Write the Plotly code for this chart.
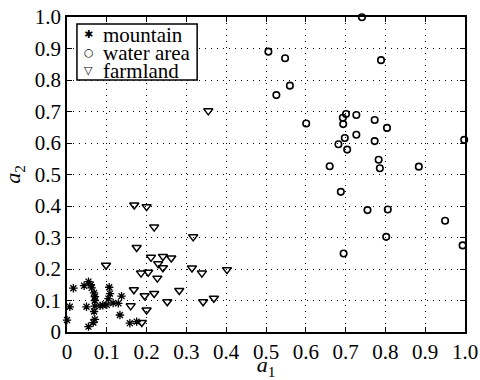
import plotly.graph_objects as go

mountain_x = [0.000, 0.007, 0.016, 0.043, 0.054, 0.060, 0.062, 0.068, 0.070, 0.070,
              0.106, 0.108, 0.104, 0.137, 0.049, 0.070, 0.083, 0.100, 0.116, 0.129,
              0.133, 0.068, 0.070, 0.066, 0.054, 0.158, 0.175, 0.090]
mountain_y = [0.038, 0.080, 0.139, 0.147, 0.160, 0.150, 0.140, 0.124, 0.112, 0.100,
              0.142, 0.122, 0.106, 0.114, 0.080, 0.082, 0.083, 0.086, 0.092, 0.091,
              0.054, 0.065, 0.040, 0.030, 0.017, 0.028, 0.033, 0.085]

water_x = [0.601, 0.693, 0.701, 0.694, 0.727, 0.773, 0.804, 0.727, 0.698, 0.682,
           0.704, 0.773, 0.998, 0.783, 0.786, 0.660, 0.884, 0.688, 0.755, 0.806,
           0.950, 0.802, 0.994, 0.695, 0.741, 0.506, 0.548, 0.789, 0.560, 0.526]
water_y = [0.662, 0.680, 0.692, 0.660, 0.689, 0.673, 0.648, 0.626, 0.616, 0.596,
           0.579, 0.606, 0.610, 0.547, 0.520, 0.526, 0.525, 0.445, 0.387, 0.389,
           0.353, 0.302, 0.275, 0.249, 0.999, 0.890, 0.869, 0.863, 0.782, 0.752]

farm_x = [0.355, 0.169, 0.200, 0.219, 0.317, 0.175, 0.211, 0.241, 0.262, 0.229,
          0.241, 0.098, 0.314, 0.339, 0.402, 0.186, 0.204, 0.227, 0.168, 0.195,
          0.219, 0.282, 0.160, 0.200, 0.252, 0.342, 0.369, 0.188]
farm_y = [0.702, 0.403, 0.398, 0.333, 0.302, 0.268, 0.237, 0.240, 0.235, 0.217,
          0.204, 0.212, 0.203, 0.187, 0.198, 0.187, 0.190, 0.171, 0.134, 0.115,
          0.122, 0.132, 0.083, 0.070, 0.096, 0.096, 0.107, 0.030]

series_names = ["mountain", "water area", "farmland"]
legend_glyphs = ["\u2731", "\u25CB", "\u25BD"]

tick_vals = [0, 0.1, 0.2, 0.3, 0.4, 0.5, 0.6, 0.7, 0.8, 0.9, 1.0]
tick_text = ["0", "0.1", "0.2", "0.3", "0.4", "0.5", "0.6", "0.7", "0.8", "0.9", "1.0"]

FONT = "Liberation Serif"

fig = go.Figure()
fig.add_trace(go.Scatter(
    x=mountain_x, y=mountain_y, mode="markers", name=series_names[0],
    marker=dict(symbol="asterisk-open", size=7, color="black",
                line=dict(color="black", width=1.3)),
    cliponaxis=False))
fig.add_trace(go.Scatter(
    x=water_x, y=water_y, mode="markers", name=series_names[1],
    marker=dict(symbol="circle-open", size=6.5, color="black",
                line=dict(color="black", width=1.6)),
    cliponaxis=False))
fig.add_trace(go.Scatter(
    x=farm_x, y=farm_y, mode="markers", name=series_names[2],
    marker=dict(symbol="triangle-down-open", size=8, color="black",
                line=dict(color="black", width=1.5)),
    cliponaxis=False))

axis_common = dict(
    range=[0, 1], tickvals=tick_vals, ticktext=tick_text,
    showgrid=True, gridcolor="black", gridwidth=1, griddash="1px,5px",
    zeroline=False, showline=True, linecolor="black", linewidth=1.5,
    mirror="ticks", ticks="inside", ticklen=5, tickcolor="black", tickwidth=1,
    tickfont=dict(family=FONT, size=21, color="black"),
    automargin=False,
)

fig.update_layout(
    width=480, height=380,
    margin=dict(l=67, r=15, t=17, b=48),
    paper_bgcolor="white", plot_bgcolor="white",
    font=dict(family=FONT, color="black"),
    xaxis=dict(**axis_common,
               title=dict(text="<i>a</i><sub>1</sub>", font=dict(family=FONT, size=22),
                          standoff=1)),
    yaxis=dict(**axis_common,
               title=dict(text="<i>a</i><sub>2</sub>", font=dict(family=FONT, size=22),
                          standoff=10)),
    showlegend=False,
)

fig.add_shape(type="rect", xref="paper", yref="paper",
              x0=0.025, x1=0.327, y0=0.800, y1=0.978,
              line=dict(color="black", width=1.5), fillcolor="white", layer="above")
row_y = [0.946, 0.887, 0.831]
for name, glyph, yy in zip(series_names, legend_glyphs, row_y):
    fig.add_annotation(xref="paper", yref="paper", x=0.055, y=yy, text=glyph,
                       showarrow=False, xanchor="center", yanchor="middle",
                       font=dict(family="DejaVu Sans", size=11, color="black"))
    fig.add_annotation(xref="paper", yref="paper", x=0.086, y=yy, text=name,
                       showarrow=False, xanchor="left", yanchor="middle", height=19,
                       font=dict(family=FONT, size=21, color="black"))

fig.write_html("out.html", config={"displayModeBar": False},
               post_script="document.body.style.margin='0px';")
